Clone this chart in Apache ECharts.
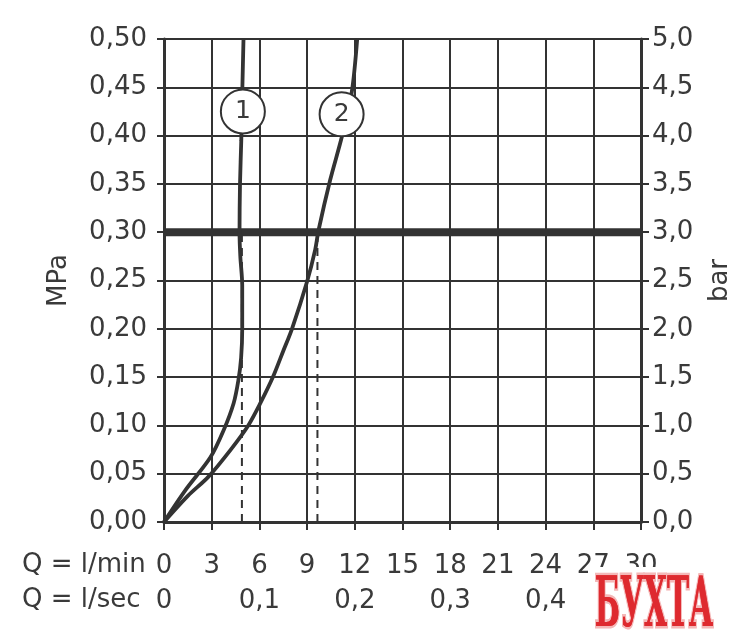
<!DOCTYPE html>
<html><head><meta charset="utf-8">
<script src="https://cdn.jsdelivr.net/npm/echarts@6/dist/echarts.min.js"></script>
<style>html,body{margin:0;padding:0;background:#fff}#c{width:754px;height:640px}</style>
</head><body><div id="c"></div>
<script>
// Curve 1 (flow l/min, pressure MPa)
const curve1Q = [0, 1.35, 2.92, 3.75, 4.38, 4.68, 4.85, 4.92, 4.92, 4.8, 4.75, 4.78, 4.86, 4.93, 5.0];
const curve1P = [0, 0.033, 0.067, 0.095, 0.123, 0.147, 0.17, 0.2, 0.245, 0.275, 0.3, 0.35, 0.395, 0.45, 0.5];
// Curve 2
const curve2Q = [0, 1.5, 2.8, 4.2, 5.3, 6.06, 6.85, 7.5, 8.05, 9.0, 9.51, 9.72, 10.45, 11.19, 11.81, 12.15];
const curve2P = [0, 0.027, 0.047, 0.075, 0.1, 0.123, 0.15, 0.177, 0.2, 0.249, 0.282, 0.302, 0.354, 0.399, 0.445, 0.5];
// Reference pressure line and dashed drop lines
const refPressure = 0.3;
const dropQ = [4.9, 9.65];
// Curve labels (circle markers)
const markerNames = ['1', '2'];
const markerQ = [4.96, 11.17];
const markerP = [0.425, 0.422];
// Axis ranges
const qMax = 30, qStep = 3, qSecStep = 6;
const pMax = 0.5, pStep = 0.05;
const barMax = 5, barStep = 0.5;

const INK = '#333333';
const TXT = '#3a3a3a';
const FONT = 'DejaVu Sans';
const FS = 26;

const zip = (a, b) => a.map((v, i) => [v, b[i]]);

const chart = echarts.init(document.getElementById('c'));
const series = [
  {type: 'line', xAxisIndex: 0, yAxisIndex: 0, data: [[0, refPressure], [qMax, refPressure]],
   symbol: 'none', lineStyle: {color: INK, width: 8}, z: 3, silent: true},
  ...dropQ.map(q => ({type: 'line', xAxisIndex: 0, yAxisIndex: 0, data: [[q, 0], [q, refPressure]],
   symbol: 'none', lineStyle: {color: INK, width: 2, type: [8, 6]}, z: 3, silent: true})),
  {type: 'line', xAxisIndex: 0, yAxisIndex: 0, data: zip(curve1Q, curve1P), smooth: 0.3,
   symbol: 'none', lineStyle: {color: INK, width: 3.8}, z: 4},
  {type: 'line', xAxisIndex: 0, yAxisIndex: 0, data: zip(curve2Q, curve2P), smooth: 0.3,
   symbol: 'none', lineStyle: {color: INK, width: 3.8}, z: 4},
  {type: 'scatter', xAxisIndex: 0, yAxisIndex: 0, data: markerQ.map((q, i) => ({value: [q, markerP[i]], name: markerNames[i]})),
   symbol: 'circle', symbolSize: 44, itemStyle: {color: '#fff', borderColor: INK, borderWidth: 2, opacity: 1}, z: 6,
   label: {show: true, position: 'inside', formatter: p => p.name, color: TXT, fontSize: 25, fontFamily: FONT}}
];

chart.setOption({
  backgroundColor: '#fff',
  animation: false,
  grid: {left: 164, right: 113, top: 39, bottom: 118},
  xAxis: [
    {type: 'value', min: 0, max: qMax, interval: qStep, position: 'bottom',
     axisLine: {show: true, onZero: false, lineStyle: {color: INK, width: 3}},
     axisTick: {show: true, length: 8, lineStyle: {color: INK, width: 2}},
     splitLine: {show: true, lineStyle: {color: INK, width: 2}},
     axisLabel: {margin: 31, color: TXT, fontSize: FS, fontFamily: FONT}},
    {type: 'value', min: 0, max: qMax, interval: qSecStep, position: 'bottom',
     axisLine: {show: false}, axisTick: {show: false}, splitLine: {show: false},
     axisLabel: {margin: 66, color: TXT, fontSize: FS, fontFamily: FONT,
       formatter: v => v === 0 ? '0' : (v / 60).toFixed(1).replace('.', ',')}}
  ],
  yAxis: [
    {type: 'value', min: 0, max: pMax, interval: pStep, position: 'left',
     name: 'MPa', nameLocation: 'middle', nameGap: 92, nameRotate: 90,
     nameTextStyle: {color: TXT, fontSize: FS, fontFamily: FONT},
     axisLine: {show: true, onZero: false, lineStyle: {color: INK, width: 3}},
     axisTick: {show: true, length: 7, lineStyle: {color: INK, width: 2}},
     splitLine: {show: true, lineStyle: {color: INK, width: 2}},
     axisLabel: {margin: 17, color: TXT, fontSize: FS, fontFamily: FONT,
       formatter: v => v.toFixed(2).replace('.', ',')}},
    {type: 'value', min: 0, max: barMax, interval: barStep, position: 'right',
     name: 'bar', nameLocation: 'middle', nameGap: 66, nameRotate: 90,
     nameTextStyle: {color: TXT, fontSize: FS, fontFamily: FONT},
     axisLine: {show: true, onZero: false, lineStyle: {color: INK, width: 3}},
     axisTick: {show: true, length: 8, lineStyle: {color: INK, width: 2}},
     splitLine: {show: false},
     axisLabel: {margin: 11, color: TXT, fontSize: FS, fontFamily: FONT,
       formatter: v => v.toFixed(1).replace('.', ',')}}
  ],
  graphic: [
    {type: 'text', left: 22, top: 552, style: {text: 'Q = l/min', fill: TXT, font: FS + 'px "DejaVu Sans"'}},
    {type: 'text', left: 22, top: 587, style: {text: 'Q = l/sec', fill: TXT, font: FS + 'px "DejaVu Sans"'}},
    {type: 'rect', shape: {x: 588, y: 567, width: 130, height: 70}, style: {fill: '#fff'}, z: 99},
    {type: 'text', x: 654, y: 608, scaleX: 0.74, scaleY: 1.72, z: 100,
     style: {text: 'БУХТА', align: 'center', verticalAlign: 'middle', fill: '#de2a2f',
       font: 'bold 40px "DejaVu Serif"', stroke: '#f4b8b8', lineWidth: 3}},
    {type: 'text', x: 654, y: 608, scaleX: 0.74, scaleY: 1.72, z: 101,
     style: {text: 'БУХТА', align: 'center', verticalAlign: 'middle', fill: '#de2a2f',
       font: 'bold 40px "DejaVu Serif"'}}
  ],
  series
});
</script></body></html>
